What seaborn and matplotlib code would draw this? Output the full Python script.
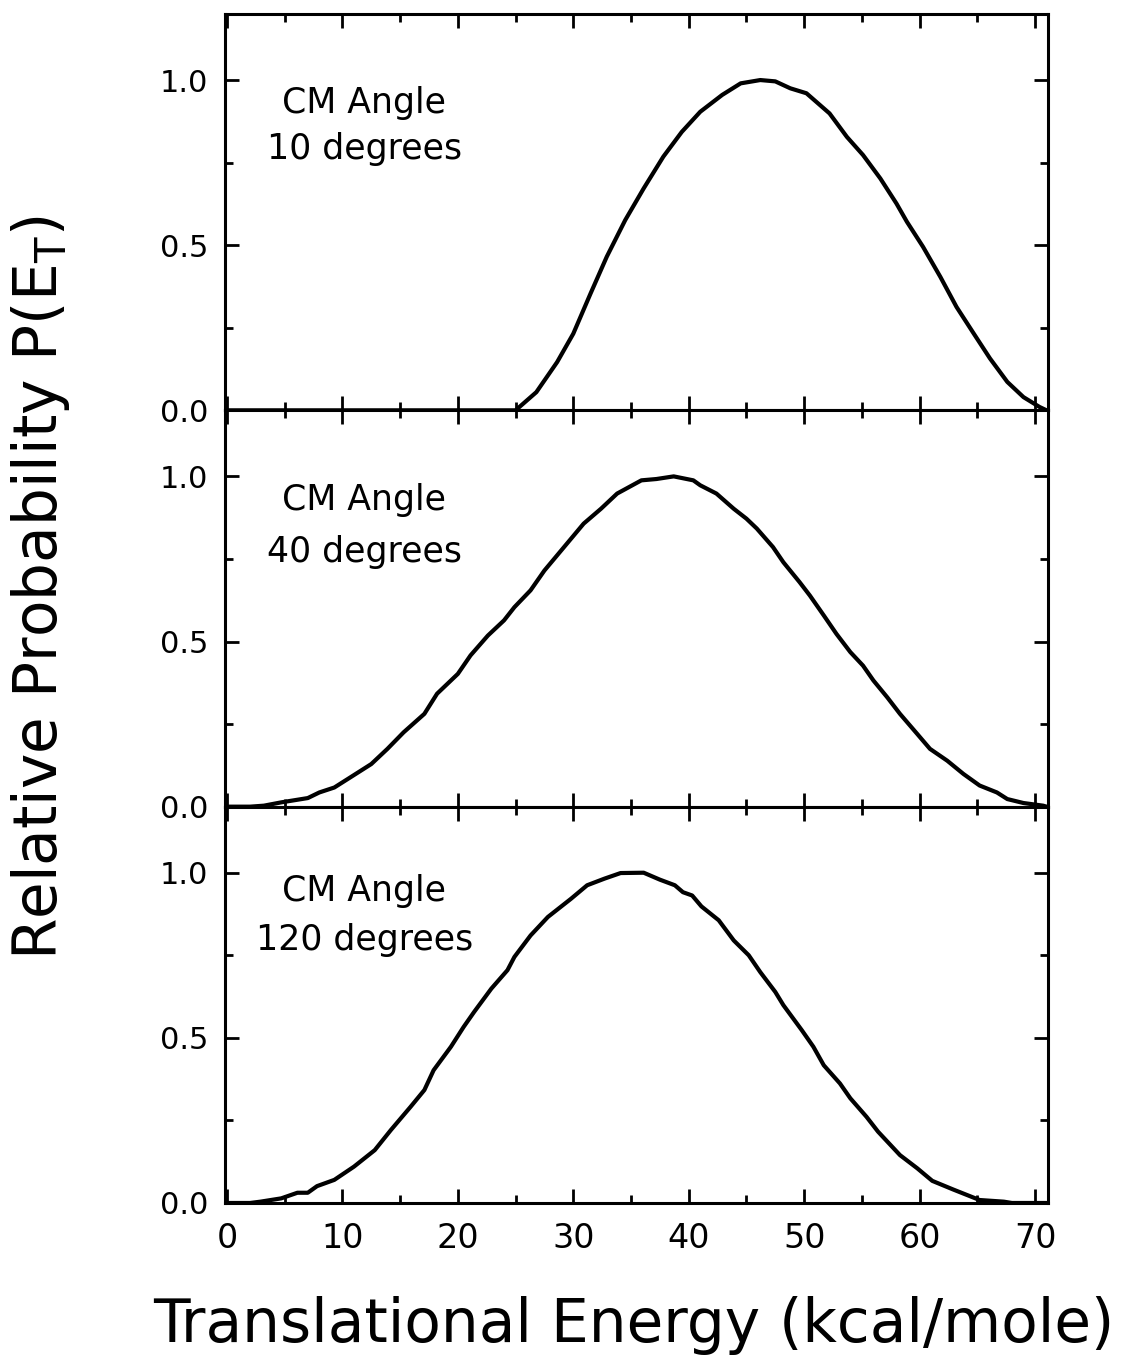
import matplotlib
matplotlib.use("Agg")
import matplotlib.pyplot as plt
import seaborn as sns
import pandas as pd
from matplotlib.ticker import MultipleLocator

# ---- data ----
e10 = [0, 10, 20, 24, 25.0, 26.8, 28.6, 30.0, 31.5, 32.9, 34.5, 36.1, 37.8, 39.4, 41.0, 42.9, 44.5,
       46.2, 47.5, 48.8, 50.2, 52.2, 53.7, 55.1, 56.6, 58.0, 58.9, 60.3, 61.8, 63.2, 64.7,
       66.1, 67.6, 69.0, 70.4, 71.0]
p10 = [0, 0, 0, 0, 0.0, 0.055, 0.146, 0.232, 0.354, 0.465, 0.576, 0.672, 0.768, 0.843, 0.904, 0.955, 0.99,
       1.0, 0.996, 0.975, 0.96, 0.899, 0.828, 0.773, 0.702, 0.626, 0.571, 0.495, 0.404, 0.313, 0.232,
       0.157, 0.086, 0.04, 0.01, 0.0]

e40 = [0, 2.0, 3.2, 4.7, 7.0, 8.0, 9.3, 10.7, 12.5, 13.9, 15.3, 17.1, 18.2, 20.0, 21.1, 22.6, 24.0,
       24.9, 26.3, 27.5, 29.2, 30.9, 32.4, 33.8, 35.9, 37.2, 38.7, 40.4, 41.0, 42.4, 43.9,
       45.0, 45.9, 47.3, 48.2, 49.6, 50.5, 51.7, 52.8, 54.0, 55.1, 56.0, 57.2, 58.3, 59.8,
       60.9, 62.4, 63.8, 65.2, 66.7, 67.6, 69.0, 70.7, 71.0]
p40 = [0, 0, 0.003, 0.013, 0.026, 0.043, 0.058, 0.089, 0.129, 0.175, 0.225, 0.281, 0.342, 0.402, 0.458, 0.518, 0.564,
       0.604, 0.655, 0.715, 0.786, 0.857, 0.902, 0.948, 0.988, 0.992, 1.0, 0.988, 0.973, 0.948, 0.902,
       0.872, 0.842, 0.786, 0.74, 0.68, 0.639, 0.579, 0.523, 0.468, 0.427, 0.382, 0.331, 0.281, 0.22,
       0.175, 0.139, 0.099, 0.064, 0.043, 0.023, 0.011, 0.003, 0.0]

e120 = [0, 2.0, 2.9, 4.7, 6.1, 7.0, 7.8, 9.3, 11.0, 12.8, 14.2, 15.9, 17.1, 17.9, 19.4, 20.5, 21.4,
        22.9, 24.3, 24.9, 26.3, 27.8, 29.8, 31.2, 32.7, 34.1, 36.1, 37.5, 38.8, 39.5, 40.3,
        41.1, 42.6, 43.9, 45.2, 46.2, 47.5, 48.2, 49.8, 50.8, 51.7, 53.1, 54.0, 55.4, 56.4,
        58.3, 59.8, 61.1, 62.9, 65.2, 67.3, 68.0, 71.0]
p120 = [0, 0, 0.004, 0.014, 0.031, 0.031, 0.051, 0.07, 0.11, 0.16, 0.221, 0.291, 0.342, 0.402, 0.473, 0.533, 0.578,
        0.649, 0.705, 0.745, 0.81, 0.866, 0.921, 0.962, 0.982, 0.999, 1.0, 0.979, 0.962, 0.941, 0.931,
        0.898, 0.856, 0.795, 0.75, 0.699, 0.639, 0.599, 0.523, 0.473, 0.417, 0.362, 0.317, 0.261, 0.216,
        0.145, 0.105, 0.067, 0.041, 0.009, 0.004, 0.0, 0.0]

panel_labels = ["CM Angle\n10 degrees", "CM Angle\n40 degrees", "CM Angle\n120 degrees"]
x_ticks = [0, 10, 20, 30, 40, 50, 60, 70]
y_ticks = [0.0, 0.5, 1.0]
x_label = "Translational Energy (kcal/mole)"
y_label = "Relative Probability P(E$_\\mathrm{T}$)"

sns.set_style("ticks")
plt.rcParams['font.family'] = ['DejaVu Sans']
plt.rcParams['mathtext.fontset'] = 'dejavusans'
plt.rcParams['text.color'] = 'black'

fig = plt.figure(figsize=(11.29, 13.59), dpi=100)
left, right = 0.199, 0.928
bottom, top = 0.1148, 0.9897
h = (top - bottom) / 3

series = [(e10, p10), (e40, p40), (e120, p120)]
label_y = [(0.93, 0.79), (0.93, 0.77), (0.945, 0.795)]
axes = []
for i, (ex, py) in enumerate(series):
    ax = fig.add_axes([left, top - (i + 1) * h, right - left, h])
    df = pd.DataFrame({"E": ex, "P": py})
    sns.lineplot(data=df, x="E", y="P", ax=ax, color="black", linewidth=3.0, sort=False)
    ax.set_xlim(-0.2, 71.1)
    ax.set_ylim(0, 1.2)
    ax.xaxis.set_major_locator(MultipleLocator(10))
    ax.xaxis.set_minor_locator(MultipleLocator(5))
    ax.set_yticks(y_ticks)
    ax.yaxis.set_minor_locator(MultipleLocator(0.25))
    ax.tick_params(which="both", direction="in", top=True, right=True, width=2.0,
                   colors="black")
    ax.tick_params(which="major", length=10)
    ax.tick_params(which="minor", length=5.5)
    ax.tick_params(axis="y", pad=12, labelsize=22)
    ax.tick_params(axis="x", pad=14, labelsize=24)
    ax.set_yticklabels([f"{v:.1f}" for v in y_ticks])
    for s in ax.spines.values():
        s.set_linewidth(2.2)
        s.set_color("black")
    ax.set_xlabel("")
    ax.set_ylabel("")
    l1, l2 = panel_labels[i].split("\n")
    ax.text(11.9, label_y[i][0], l1, ha="center", va="center", fontsize=25, color="black")
    ax.text(11.9, label_y[i][1], l2, ha="center", va="center", fontsize=25, color="black")
    if i < 2:
        ax.tick_params(axis="x", labelbottom=False)
    else:
        ax.set_xticks(x_ticks)
        ax.set_xticklabels([str(v) for v in x_ticks])
    axes.append(ax)

fig.text(0.5616, 0.025, x_label, ha="center", va="center", fontsize=43, color="black")
fig.text(0.036, 0.568, y_label, ha="center", va="center", rotation=90, fontsize=43, color="black")

fig.savefig("out.png", dpi=100, facecolor="white")
